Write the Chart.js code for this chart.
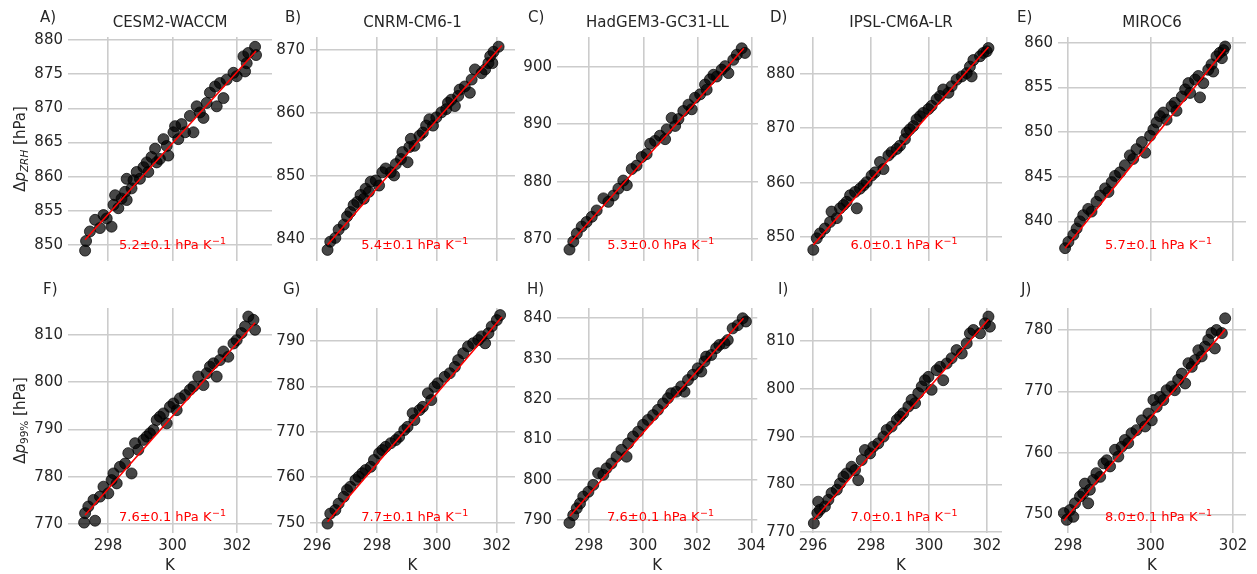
<!DOCTYPE html>
<html>
<head>
<meta charset="utf-8">
<script src="https://cdn.jsdelivr.net/npm/chart.js@4.4.1/dist/chart.umd.min.js"></script>
<style>
  body { margin: 0; background: #fff; width: 1257px; height: 574px; overflow: hidden; position: relative; }
  canvas { position: absolute; }
</style>
</head>
<body>
<script>
// ---- data ----
const models = ['CESM2-WACCM', 'CNRM-CM6-1', 'HadGEM3-GC31-LL', 'IPSL-CM6A-LR', 'MIROC6'];
const letters = [['A)', 'B)', 'C)', 'D)', 'E)'], ['F)', 'G)', 'H)', 'I)', 'J)']];
const slopeText = [
  ['5.2±0.1', '5.4±0.1', '5.3±0.0', '6.0±0.1', '5.7±0.1'],
  ['7.6±0.1', '7.7±0.1', '7.6±0.1', '7.0±0.1', '8.0±0.1']
];
const xTicks = [[298, 300, 302], [296, 298, 300, 302], [298, 300, 302, 304], [296, 298, 300, 302], [298, 300, 302]];
const xRange = [[296.76, 303.085], [295.764, 302.607], [296.82, 304.22], [295.552, 302.517], [297.758, 302.315]];
const yTicks = [
  [[850, 855, 860, 865, 870, 875, 880], [840, 850, 860, 870], [870, 880, 890, 900], [850, 860, 870, 880], [840, 845, 850, 855, 860]],
  [[770, 780, 790, 800, 810], [750, 760, 770, 780, 790], [790, 800, 810, 820, 830, 840], [770, 780, 790, 800, 810], [750, 760, 770, 780]]
];
const yRange = [
  [[847.68, 880.435], [836.54, 872.04], [866.21, 905.17], [845.64, 886.73], [835.56, 860.67]],
  [[768.10, 815.71], [747.73, 797.26], [786.78, 842.55], [769.85, 816.90], [746.96, 783.58]]
];

// delta p (ZRH), hPa vs temperature, K
const cesmZrh = [[297.29,849.2],[297.32,850.6],[297.44,852.0],[297.60,853.7],[297.75,852.5],[297.86,854.4],[297.96,853.9],[298.11,852.7],[298.17,855.9],[298.22,857.3],[298.32,855.4],[298.42,856.8],[298.53,857.8],[298.58,859.7],[298.58,856.6],[298.73,858.3],[298.79,859.5],[298.89,860.7],[298.99,859.7],[299.10,861.4],[299.20,862.1],[299.25,860.7],[299.35,862.9],[299.46,864.1],[299.51,862.1],[299.61,862.6],[299.72,865.5],[299.82,864.5],[299.87,863.1],[300.03,866.5],[300.08,867.4],[300.18,865.5],[300.28,867.7],[300.39,866.5],[300.54,868.9],[300.65,866.5],[300.75,870.3],[300.85,869.4],[300.96,868.6],[301.06,870.8],[301.16,872.3],[301.32,873.2],[301.37,870.3],[301.47,873.7],[301.58,871.5],[301.68,874.2],[301.89,875.2],[301.99,874.7],[302.20,877.6],[302.25,875.4],[302.30,876.6],[302.35,878.1],[302.56,879.0],[302.59,877.8]];
const cnrmZrh = [[296.35,838.3],[296.44,839.6],[296.61,840.2],[296.72,841.5],[296.89,842.3],[297.00,843.6],[297.11,844.3],[297.22,845.4],[297.34,845.9],[297.45,847.0],[297.56,846.4],[297.62,848.0],[297.73,847.5],[297.79,849.1],[297.96,849.3],[298.07,848.5],[298.18,850.6],[298.29,851.2],[298.46,850.6],[298.57,850.1],[298.63,851.9],[298.80,852.7],[298.85,853.8],[299.02,852.2],[299.08,854.6],[299.13,855.9],[299.25,854.8],[299.42,856.4],[299.53,856.9],[299.64,858.0],[299.75,859.0],[299.87,858.0],[299.98,859.3],[300.15,860.1],[300.31,860.6],[300.37,861.6],[300.48,862.1],[300.60,861.1],[300.71,862.7],[300.76,863.7],[300.93,864.2],[301.10,863.2],[301.16,865.3],[301.27,866.9],[301.49,866.3],[301.61,866.9],[301.72,867.9],[301.78,869.0],[301.85,867.9],[301.89,869.7],[302.06,870.5]];
const hadgemZrh = [[297.28,868.2],[297.42,869.6],[297.55,871.0],[297.73,872.2],[297.91,873.0],[298.10,873.9],[298.28,875.0],[298.53,877.1],[298.71,876.5],[298.90,877.6],[299.08,878.8],[299.26,880.2],[299.39,879.4],[299.57,882.2],[299.75,882.8],[299.94,884.3],[300.12,884.8],[300.25,886.6],[300.43,887.1],[300.61,888.0],[300.80,887.4],[300.86,889.1],[301.04,891.1],[301.17,889.7],[301.29,890.9],[301.47,892.3],[301.66,893.4],[301.78,892.6],[301.90,894.6],[302.09,895.2],[302.27,896.9],[302.33,896.0],[302.45,897.8],[302.58,898.6],[302.70,898.3],[302.88,899.5],[303.01,900.1],[303.13,898.9],[303.31,901.2],[303.44,902.1],[303.62,903.2],[303.74,902.4]];
const ipslZrh = [[296.01,847.7],[296.13,849.8],[296.24,850.7],[296.41,851.6],[296.59,852.8],[296.64,854.7],[296.82,853.5],[296.93,855.3],[297.05,855.9],[297.16,856.5],[297.28,857.7],[297.45,858.3],[297.51,855.3],[297.62,858.9],[297.74,859.5],[297.85,860.1],[298.02,861.3],[298.14,861.9],[298.31,863.8],[298.43,862.5],[298.60,865.0],[298.71,865.6],[298.89,866.2],[299.00,866.8],[299.17,868.0],[299.23,869.2],[299.34,869.8],[299.46,870.4],[299.57,871.6],[299.69,872.2],[299.80,872.8],[299.98,873.5],[300.09,874.1],[300.26,875.3],[300.38,875.9],[300.49,877.1],[300.67,876.5],[300.78,877.7],[300.95,878.9],[301.13,879.5],[301.30,880.1],[301.41,881.3],[301.47,879.5],[301.53,882.5],[301.76,883.2],[301.87,883.8],[301.99,884.1],[302.05,884.7]];
const mirocZrh = [[297.93,837.0],[298.01,837.7],[298.13,838.5],[298.21,839.2],[298.29,840.0],[298.37,840.7],[298.49,841.4],[298.57,841.1],[298.69,842.2],[298.78,842.9],[298.90,843.7],[298.98,843.3],[299.06,844.4],[299.14,845.1],[299.26,845.5],[299.38,846.3],[299.50,847.4],[299.58,847.0],[299.66,848.1],[299.79,848.9],[299.87,847.7],[299.99,849.6],[300.07,850.3],[300.15,851.1],[300.23,851.8],[300.31,852.2],[300.39,851.4],[300.51,852.9],[300.59,853.3],[300.63,852.4],[300.76,854.0],[300.84,854.8],[300.92,855.5],[300.96,854.4],[301.08,855.9],[301.16,856.3],[301.20,853.9],[301.28,855.5],[301.40,857.0],[301.48,857.6],[301.52,856.8],[301.60,858.5],[301.68,858.9],[301.73,858.3],[301.77,859.2],[301.81,859.6]];

// delta p (99%), hPa vs temperature, K
const cesm99 = [[297.26,770.3],[297.29,772.3],[297.39,773.7],[297.60,770.7],[297.55,775.1],[297.75,775.8],[297.86,777.9],[298.01,776.5],[298.11,779.3],[298.17,780.7],[298.27,778.6],[298.37,782.1],[298.53,782.8],[298.63,785.0],[298.73,780.7],[298.84,787.1],[298.94,785.7],[299.10,787.8],[299.20,788.5],[299.30,789.2],[299.41,789.9],[299.51,792.0],[299.61,792.7],[299.72,793.4],[299.82,791.3],[299.92,794.8],[300.03,795.5],[300.13,794.1],[300.23,796.6],[300.39,797.3],[300.54,798.4],[300.65,799.1],[300.80,801.2],[300.96,799.4],[301.06,801.9],[301.16,803.3],[301.27,804.0],[301.37,801.2],[301.47,804.7],[301.58,806.5],[301.73,805.4],[301.89,808.2],[301.99,808.9],[302.14,810.4],[302.25,811.8],[302.35,813.9],[302.51,813.2],[302.56,811.1]];
const cnrm99 = [[296.35,749.8],[296.44,752.0],[296.61,752.8],[296.72,754.2],[296.89,755.7],[297.00,757.2],[297.11,757.9],[297.28,759.4],[297.39,760.1],[297.51,760.9],[297.62,761.6],[297.79,762.3],[297.90,763.8],[298.07,765.3],[298.18,766.0],[298.29,766.7],[298.46,767.5],[298.63,768.2],[298.74,768.9],[298.91,770.4],[299.02,771.1],[299.19,774.1],[299.25,772.6],[299.42,774.8],[299.53,775.5],[299.70,778.5],[299.81,777.0],[299.92,779.9],[300.03,780.7],[300.26,782.1],[300.43,782.9],[300.60,784.3],[300.71,785.8],[300.88,787.3],[301.04,788.8],[301.21,789.5],[301.38,790.2],[301.49,791.0],[301.61,789.5],[301.72,791.7],[301.83,793.2],[302.00,794.6],[302.11,795.7]];
const hadgem99 = [[297.28,789.3],[297.42,791.2],[297.55,792.9],[297.67,794.1],[297.79,795.8],[297.98,797.0],[298.16,798.7],[298.34,801.6],[298.53,801.2],[298.65,802.8],[298.83,804.0],[299.02,805.7],[299.20,807.4],[299.39,805.7],[299.45,809.0],[299.63,810.7],[299.82,811.9],[300.00,813.6],[300.18,814.8],[300.37,816.0],[300.55,817.3],[300.74,818.9],[300.92,820.2],[301.04,821.4],[301.23,821.8],[301.41,823.1],[301.53,821.8],[301.66,824.7],[301.84,826.0],[302.02,827.6],[302.15,826.8],[302.27,829.3],[302.33,830.5],[302.52,830.9],[302.70,832.6],[302.82,833.4],[303.01,833.8],[303.13,834.6],[303.31,837.5],[303.50,838.3],[303.68,840.0],[303.80,839.2]];
const ipsl99 = [[296.03,771.9],[296.15,774.0],[296.24,774.7],[296.18,776.4],[296.41,775.4],[296.53,776.8],[296.64,778.2],[296.82,778.9],[296.93,780.2],[297.05,781.6],[297.16,782.3],[297.33,783.7],[297.45,783.0],[297.56,780.9],[297.68,785.1],[297.79,787.2],[297.97,786.5],[298.08,787.9],[298.25,788.6],[298.43,790.0],[298.54,791.4],[298.71,792.1],[298.89,793.5],[299.00,794.2],[299.11,794.9],[299.29,796.3],[299.40,797.7],[299.52,797.0],[299.63,799.1],[299.75,800.5],[299.86,801.8],[299.98,802.5],[300.09,799.8],[300.26,803.9],[300.38,804.6],[300.49,801.8],[300.61,805.3],[300.78,806.4],[300.95,808.1],[301.13,807.4],[301.30,809.5],[301.41,811.6],[301.53,812.3],[301.76,811.6],[301.93,813.7],[302.05,815.1],[302.10,813.0]];
const miroc99 = [[297.90,750.2],[297.97,749.1],[298.05,750.7],[298.13,749.6],[298.17,751.8],[298.29,752.9],[298.37,753.4],[298.41,755.0],[298.49,751.8],[298.53,754.0],[298.61,755.6],[298.69,756.7],[298.78,756.1],[298.86,758.3],[298.94,758.8],[299.02,757.8],[299.14,760.5],[299.22,759.4],[299.30,761.0],[299.38,762.1],[299.46,761.6],[299.54,763.2],[299.66,763.7],[299.79,765.3],[299.87,764.3],[299.95,766.4],[300.03,765.3],[300.07,768.6],[300.15,767.5],[300.23,769.1],[300.31,768.6],[300.39,770.2],[300.51,770.8],[300.59,770.2],[300.67,771.9],[300.76,772.9],[300.84,771.3],[300.92,774.6],[301.00,774.0],[301.08,775.1],[301.16,776.7],[301.24,775.7],[301.32,777.3],[301.40,778.4],[301.48,779.5],[301.56,777.0],[301.60,780.0],[301.73,779.5],[301.81,781.9]];

// fitted lines (end points)
const fitZrh = [
  [[297.29,850.8],[302.59,878.4]],
  [[296.35,839.1],[302.17,870.7]],
  [[297.30,869.3],[303.70,903.2]],
  [[296.01,848.6],[302.05,884.9]],
  [[297.93,837.0],[301.81,859.3]]
];
const fit99 = [
  [[297.29,771.9],[302.56,812.6]],
  [[296.35,750.2],[302.17,795.3]],
  [[297.30,791.0],[303.71,840.0]],
  [[296.03,772.6],[302.05,814.5]],
  [[297.90,749.0],[301.81,780.1]]
];

const points = [[cesmZrh, cnrmZrh, hadgemZrh, ipslZrh, mirocZrh], [cesm99, cnrm99, hadgem99, ipsl99, miroc99]];
const fits = [fitZrh, fit99];

// ---- layout (page pixels) ----
const colLeft = [68, 310, 557, 800, 1058];
const colRight = [272, 515, 758, 1002, 1246];
const rowTop = [37, 308];
const rowBottom = [263, 533];
const canvasTop = [0, 280];
const canvasBottom = [275, 574];
const letterX = [[40, 285, 528, 770, 1017], [43, 283, 527, 778, 1021]];
const letterY = [22, 294];
const FONT = '"DejaVu Sans", sans-serif';
const INK = '#262626';

const panelText = {
  id: 'panelText',
  afterDraw(chart, args, o) {
    const ctx = chart.ctx;
    const a = chart.chartArea;
    ctx.save();
    ctx.fillStyle = INK;
    ctx.textBaseline = 'alphabetic';
    ctx.font = '15px ' + FONT;
    ctx.textAlign = 'left';
    ctx.fillText(o.letter, o.letterX - o.left, o.letterY - o.top);
    if (o.title) {
      ctx.textAlign = 'center';
      ctx.fillText(o.title, (a.left + a.right) / 2, a.top - 10);
    }
    if (o.xTitle) {
      ctx.textAlign = 'center';
      ctx.fillText(o.xTitle, (a.left + a.right) / 2, 570 - o.top);
    }
    // slope annotation
    ctx.fillStyle = '#ff0000';
    ctx.textAlign = 'left';
    ctx.font = '13px ' + FONT;
    const sx = a.left + 0.25 * (a.right - a.left);
    const sy = a.bottom - 12;
    const main = o.slope + ' hPa K';
    ctx.fillText(main, sx, sy);
    const w = ctx.measureText(main).width;
    ctx.font = '9.5px ' + FONT;
    ctx.fillText('\u22121', sx + w + 0.5, sy - 5);
    // y label
    if (o.yLabel) {
      ctx.fillStyle = INK;
      ctx.translate(25 - o.left, (a.top + a.bottom) / 2);
      ctx.rotate(-Math.PI / 2);
      let total = 0;
      o.yLabel.forEach(s => { ctx.font = s.f; total += ctx.measureText(s.t).width; });
      let x = -total / 2;
      o.yLabel.forEach(s => {
        ctx.font = s.f;
        ctx.fillText(s.t, x, s.dy || 0);
        x += ctx.measureText(s.t).width;
      });
    }
    ctx.restore();
  }
};

const yLabels = [
  [{t: '\u0394', f: '15px ' + FONT}, {t: 'p', f: 'italic 15px ' + FONT}, {t: 'ZRH', f: 'italic 10.5px ' + FONT, dy: 3}, {t: ' [hPa]', f: '15px ' + FONT}],
  [{t: '\u0394', f: '15px ' + FONT}, {t: 'p', f: 'italic 15px ' + FONT}, {t: '99%', f: '10.5px ' + FONT, dy: 3}, {t: ' [hPa]', f: '15px ' + FONT}]
];

for (let r = 0; r < 2; r++) {
  for (let c = 0; c < 5; c++) {
    const left = c === 0 ? 0 : colLeft[c] - 60;
    const right = Math.min(colRight[c] + 12, 1257);
    const top = canvasTop[r];
    const W = right - left, H = canvasBottom[r] - top;
    const padL = colLeft[c] - left;
    const padT = rowTop[r] - top;
    const padR = right - colRight[c];
    const padB = canvasBottom[r] - rowBottom[r];

    const cv = document.createElement('canvas');
    cv.width = W; cv.height = H;
    cv.style.left = left + 'px'; cv.style.top = top + 'px';
    cv.style.width = W + 'px'; cv.style.height = H + 'px';
    document.body.appendChild(cv);

    const xt = xTicks[c], yt = yTicks[r][c];
    new Chart(cv, {
      type: 'scatter',
      data: {
        datasets: [
          {
            data: fits[r][c].map(p => ({x: p[0], y: p[1]})),
            showLine: true, borderColor: '#ff0000', borderWidth: 1.6,
            pointRadius: 0, order: 0
          },
          {
            data: points[r][c].map(p => ({x: p[0], y: p[1]})),
            backgroundColor: 'rgba(0,0,0,0.72)', borderColor: 'rgba(0,0,0,0.72)',
            borderWidth: 1, pointRadius: 5.5, order: 1
          }
        ]
      },
      options: {
        responsive: false, animation: false, devicePixelRatio: 1, events: [],
        layout: {padding: {left: 0, top: padT, right: padR, bottom: 0}},
        plugins: {
          legend: {display: false}, tooltip: {enabled: false},
          panelText: {
            left, top, letter: letters[r][c], letterX: letterX[r][c], letterY: letterY[r],
            title: r === 0 ? models[c] : null, xTitle: r === 1 ? 'K' : null,
            slope: slopeText[r][c], yLabel: c === 0 ? yLabels[r] : null
          }
        },
        scales: {
          x: {
            type: 'linear', min: xRange[c][0], max: xRange[c][1],
            afterBuildTicks: s => { s.ticks = xt.map(v => ({value: v})); },
            afterFit: s => { s.height = padB; },
            grid: {color: '#cccccc', lineWidth: 1.6, drawTicks: false},
            border: {display: false},
            ticks: {display: r === 1, padding: 4, color: INK, font: {family: FONT, size: 15}, maxRotation: 0}
          },
          y: {
            type: 'linear', min: yRange[r][c][0], max: yRange[r][c][1],
            afterBuildTicks: s => { s.ticks = yt.map(v => ({value: v})); },
            afterFit: s => { s.width = padL; },
            grid: {color: '#cccccc', lineWidth: 1.6, drawTicks: false},
            border: {display: false},
            ticks: {padding: 5, color: INK, font: {family: FONT, size: 15}}
          }
        }
      },
      plugins: [panelText]
    });
  }
}
</script>
</body>
</html>
